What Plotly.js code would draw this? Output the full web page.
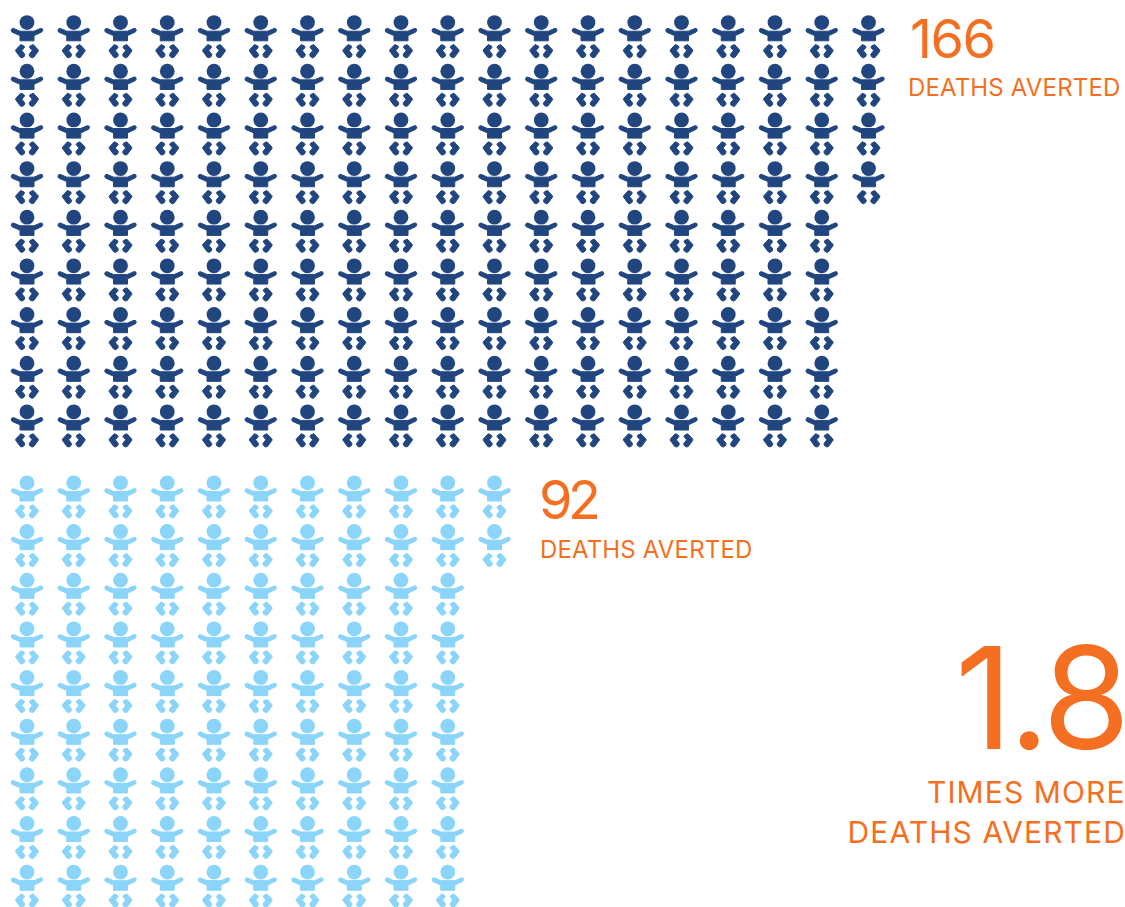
<!DOCTYPE html>
<html><head><meta charset="utf-8">
<script src="https://cdn.plot.ly/plotly-3.0.1.min.js"></script>
<style>html,body{margin:0;padding:0;background:#fff}
.annotation[data-index="0"] text{letter-spacing:-1.5px}
.annotation[data-index="2"] text{letter-spacing:-4.5px}
.annotation[data-index="4"] text{letter-spacing:-4px}
.annotation[data-index="5"] text,.annotation[data-index="6"] text{letter-spacing:1.1px}
.annotation[data-index="1"] text,.annotation[data-index="3"] text{letter-spacing:0.15px}
</style></head>
<body><div id="chart" style="width:1125px;height:907px"></div>
<script>
// data
const groupCounts = [166, 92];
const groupColors = ['#21467F', '#8AD5F9'];
const rowsPerColumn = 9;
const groupRowStart = [0, 9.46];
const numberLabels = ['166', '92'];
const unitLabel = 'DEATHS AVERTED';
const ratioLabel = '1.8';
const ratioLines = ['TIMES MORE', 'DEATHS AVERTED'];
const ORANGE = '#F46F21';

// pictogram cell layout
const W = 1125, H = 907;
const colPitch = 46.75, rowPitch = 48.65, originX = 27, originY = 22.6;

// glyph outline in px relative to the head centre
const torso = [[-7,8.6],[7,8.6],[13.5,5.8],[15.1,6],[15.8,7.7],[14.9,9.3],[7,13],[7,18.2],[-7,18.2],[-7,13],[-14.9,9.6],[-15.8,8],[-15.1,6.2],[-13.5,5.8]];
const legL = [[-6.2,21.9],[-3,23.4],[-2.5,24.8],[-5.2,28],[-2.2,31.7],[-2.7,33.8],[-5,35.2],[-6.8,34.6],[-11.4,28.3],[-11.1,27.1]];
const legR = legL.map(p => [-p[0], p[1]]);
const parts = [torso, legL, legR];

const traces = [];
groupCounts.forEach((n, g) => {
  const cx = [], cy = [], px = [], py = [];
  for (let i = 0; i < n; i++) {
    const c = Math.floor(i / rowsPerColumn), r = i % rowsPerColumn + groupRowStart[g];
    cx.push(c); cy.push(r);
    parts.forEach(part => {
      part.forEach(p => { px.push(c + p[0] / colPitch); py.push(r + p[1] / rowPitch); });
      px.push(c + part[0][0] / colPitch); py.push(r + part[0][1] / rowPitch);
      px.push(null); py.push(null);
    });
  }
  traces.push({type:'scatter', mode:'lines', x:px, y:py, fill:'toself', fillcolor:groupColors[g],
    line:{width:1, color:groupColors[g]}, hoverinfo:'skip', showlegend:false});
  traces.push({type:'scatter', mode:'markers', x:cx, y:cy,
    marker:{symbol:'circle', size:14.8, color:groupColors[g], line:{width:0}}, hoverinfo:'skip', showlegend:false});
});

const fontBase = {family:'Inter, Roboto, sans-serif', color:ORANGE, weight:400};
function label(text, px, py, size, anchor) {
  return {xref:'paper', yref:'paper', x:px / W, y:1 - py / H, text:text, showarrow:false,
    xanchor:anchor, yanchor:'middle', align:anchor, borderpad:0,
    font:Object.assign({}, fontBase, {size:size})};
}
const annotations = [
  label(numberLabels[0], 909, 38, 54, 'left'),
  label(unitLabel, 907, 88, 24, 'left'),
  label(numberLabels[1], 538, 499, 54, 'left'),
  label(unitLabel, 539, 549, 24, 'left'),
  label(ratioLabel, 1127, 697, 142, 'right'),
  label(ratioLines[0], 1127, 792, 30, 'right'),
  label(ratioLines[1], 1127, 832, 30, 'right')
];

Plotly.newPlot('chart', traces, {
  width:W, height:H, margin:{l:0,r:0,t:0,b:0,pad:0}, paper_bgcolor:'#fff', plot_bgcolor:'#fff', showlegend:false,
  xaxis:{visible:false, fixedrange:true, range:[-originX/colPitch, (W-originX)/colPitch]},
  yaxis:{visible:false, fixedrange:true, range:[(H-originY)/rowPitch, -originY/rowPitch]},
  annotations:annotations
}, {displayModeBar:false, staticPlot:true});
</script></body></html>
